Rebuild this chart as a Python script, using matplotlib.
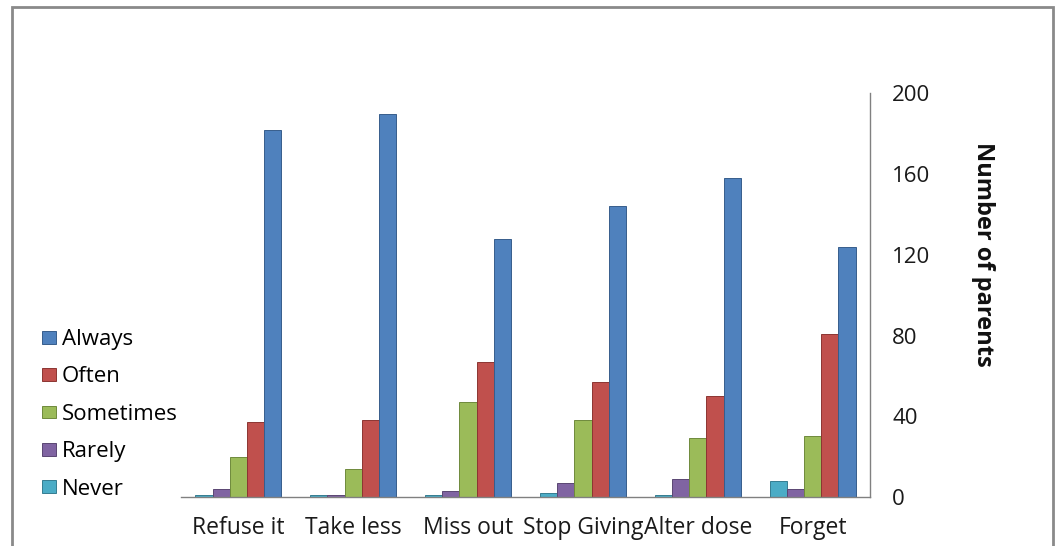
import matplotlib
matplotlib.use("Agg")
import matplotlib.pyplot as plt
from matplotlib.patches import Rectangle, Patch
import numpy as np

categories = ["Refuse it", "Take less", "Miss out", "Stop Giving", "Alter dose", "Forget"]
series_names = ["Never", "Rarely", "Sometimes", "Often", "Always"]
never = [1, 1, 1, 2, 1, 8]
rarely = [4, 1, 3, 7, 9, 4]
sometimes = [20, 14, 47, 38, 29, 30]
often = [37, 38, 67, 57, 50, 81]
always = [182, 190, 128, 144, 158, 124]
y_ticks = [0, 40, 80, 120, 160, 200]

colors = {
    "Never": "#4BACC6",
    "Rarely": "#8064A2",
    "Sometimes": "#9BBB59",
    "Often": "#C0504D",
    "Always": "#4F81BD",
}
edges = {
    "Never": "#357d91",
    "Rarely": "#5a4673",
    "Sometimes": "#6f8a3c",
    "Often": "#8c3532",
    "Always": "#375d8c",
}

plt.rcParams["font.family"] = ["Open Sans", "DejaVu Sans"]

fig = plt.figure(figsize=(10.57, 5.46), dpi=100)
fig.patch.set_facecolor("white")

W, H = 1057, 546
left, right, top, bottom = 181, 870, 93.5, 497
ax = fig.add_axes([left / W, (H - bottom) / H, (right - left) / W, (bottom - top) / H])

values = [never, rarely, sometimes, often, always]
x = np.arange(len(categories))
bw = 0.15
for i, (name, vals) in enumerate(zip(series_names, values)):
    ax.bar(x + (i - 2) * bw, vals, width=bw, color=colors[name],
           edgecolor=edges[name], linewidth=0.7, label=name)

ax.set_xlim(-0.5, len(categories) - 0.5)
ax.set_ylim(0, 200)
ax.set_yticks(y_ticks)
ax.yaxis.tick_right()
ax.tick_params(axis="y", length=0, pad=16, labelsize=16, labelcolor="#1a1a1a")
ax.set_xticks(x)
ax.set_xticklabels(categories)
ax.tick_params(axis="x", length=0, pad=14, labelsize=16.5, labelcolor="#1a1a1a")

for s in ["top", "left"]:
    ax.spines[s].set_visible(False)
ax.spines["right"].set_color("#808080")
ax.spines["bottom"].set_color("#808080")
ax.spines["right"].set_linewidth(1.0)
ax.spines["bottom"].set_linewidth(1.0)

fig.text(983 / W, 1 - 254 / H, "Number of parents", rotation=-90, fontsize=17,
         fontweight="bold", ha="center", va="center", color="#111111")

handles = [Patch(facecolor=colors[n], edgecolor=edges[n], linewidth=0.7) for n in reversed(series_names)]
labels = list(reversed(series_names))
fig.legend(handles, labels, loc="upper left", bbox_to_anchor=(42 / W, 1 - 329 / H),
           frameon=False, fontsize=16, handlelength=0.62, handleheight=0.52,
           handletextpad=0.28, labelspacing=0.74, borderaxespad=0, borderpad=0)

# outer frame around the chart
fig.patches.append(Rectangle((11.5 / W, -0.02), (1053 - 11.5) / W, 1.02 - 7 / H,
                             transform=fig.transFigure, fill=False,
                             edgecolor="#8a8a8a", linewidth=2.0))

fig.savefig("out.png", dpi=100, facecolor="white")
